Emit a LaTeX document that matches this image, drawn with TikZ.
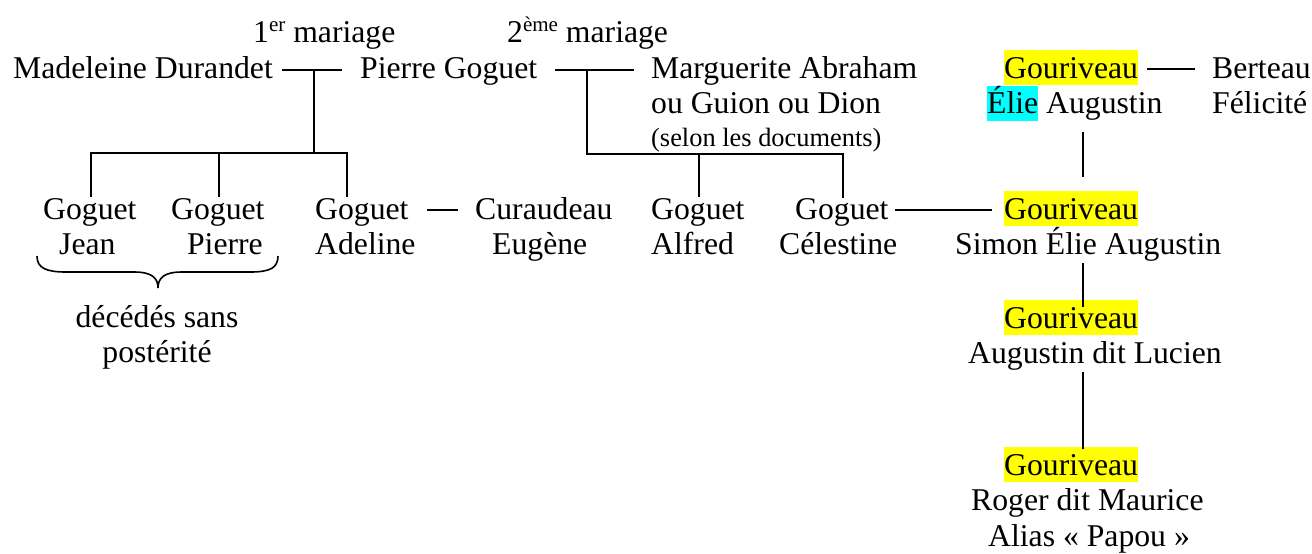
\documentclass[tikz,border=0pt]{standalone}
\usepackage{fontspec}
\setmainfont{Liberation Serif}
\definecolor{hlyellow}{RGB}{255,255,0}
\definecolor{hlcyan}{RGB}{0,255,255}
\newcommand\hlbox[2]{{\setlength{\fboxsep}{0pt}\colorbox{#1}{\rule[-7pt]{0pt}{35pt}#2}}}
\newcommand\supx[1]{\raisebox{10.5pt}{\fontsize{21}{21}\selectfont #1}}
\begin{document}
\begin{tikzpicture}[x=1pt,y=-1pt,
  txt/.style={inner sep=0pt, anchor=base west, font=\fontsize{31.7}{35.5}\selectfont},
  txtr/.style={txt, anchor=base east},
  small/.style={txt, font=\fontsize{26.4}{30}\selectfont},
  link/.style={line width=2pt, black, line cap=butt, line join=miter}]
\useasboundingbox (0,0) rectangle (1312,554);

% --- marriage labels
\node[txt] (lab1) at (253,42) {1\supx{er} mariage};
\node[txt] (lab2) at (507,42) {2\supx{ème} mariage};

% --- top row
\node[txt] (md) at (13,78) {Madeleine Durandet};
\node[txt] (pg) at (360,78) {Pierre Goguet};
\node[txt] (ma1) at (651,78) {Marguerite Abraham};
\node[txt] (ma2) at (651,113.5) {ou Guion ou Dion};
\node[small] (ma3) at (651,146) {(selon les documents)};
\node[txt] (ga1) at (1004,78) {\hlbox{hlyellow}{Gouriveau}};
\node[txt] (ga2) at (987,113.5) {\hlbox{hlcyan}{Élie} Augustin};
\node[txt] (bf1) at (1212,78) {Berteau};
\node[txt] (bf2) at (1212,113.5) {Félicité};

% --- children row
\node[txt] (gj1) at (43,219) {Goguet};
\node[txt] (gj2) at (59,254.5) {Jean};
\node[txt] (gp1) at (171,219) {Goguet};
\node[txtr] (gp2) at (263,254.5) {Pierre};
\node[txt] (gad1) at (315,219) {Goguet};
\node[txt] (gad2) at (315,254.5) {Adeline};
\node[txt] (ce1) at (475,219) {Curaudeau};
\node[txt] (ce2) at (492,254.5) {Eugène};
\node[txt] (gal1) at (651,219) {Goguet};
\node[txt] (gal2) at (651,254.5) {Alfred};
\node[txt] (gc1) at (795,219) {Goguet};
\node[txt] (gc2) at (779,254.5) {Célestine};
\node[txt] (gs1) at (1004,219) {\hlbox{hlyellow}{Gouriveau}};
\node[txt] (gs2) at (955,254.5) {Simon Élie Augustin};

% --- lower rows
\node[txt] (gl1) at (1004,328) {\hlbox{hlyellow}{Gouriveau}};
\node[txt] (gl2) at (968,363.5) {Augustin dit Lucien};
\node[txt] (gr1) at (1004,475) {\hlbox{hlyellow}{Gouriveau}};
\node[txt] (gr2) at (971,510.5) {Roger dit Maurice};
\node[txt] (gr3) at (988,546) {Alias « Papou »};

\node[txt, anchor=base] (dc1) at (157,327) {décédés sans};
\node[txt, anchor=base] (dc2) at (157,362.5) {postérité};

% --- coordinates for connectors
\coordinate (m1a) at (282,70);  \coordinate (m1b) at (342,70);
\coordinate (m1c) at (314,70);  \coordinate (m1d) at (314,153);
\coordinate (k1a) at (91,153);  \coordinate (k1b) at (347,153);
\coordinate (dj) at (91,197);   \coordinate (dp) at (219,197);
\coordinate (dad) at (347,197);
\coordinate (m2a) at (555,70);  \coordinate (m2b) at (634,70);
\coordinate (m2c) at (587,70);  \coordinate (m2d) at (587,154);
\coordinate (k2b) at (843,154);
\coordinate (dal) at (699,197); \coordinate (dce) at (843,198);
\coordinate (aca) at (427,210); \coordinate (acb) at (458,210);
\coordinate (csa) at (895,210); \coordinate (csb) at (992,210);
\coordinate (gba) at (1147,69); \coordinate (gbb) at (1195,69);
\coordinate (v1a) at (1083,132); \coordinate (v1b) at (1083,177);
\coordinate (v2a) at (1083,263); \coordinate (v2b) at (1083,307);
\coordinate (v3a) at (1083,372); \coordinate (v3b) at (1083,449);

% --- connectors
\draw[link] (m1a) -- (m1b);
\draw[link] (m1c) -- (m1d);
\draw[link] (dj) -- (k1a) -- (k1b) -- (dad);
\draw[link] (dp) -- (dp |- k1a);
\draw[link] (m2a) -- (m2b);
\draw[link] (m2c) -- (m2d) -- (k2b) -- (dce);
\draw[link] (dal) -- (dal |- m2d);
\draw[link] (aca) -- (acb);
\draw[link] (csa) -- (csb);
\draw[link] (gba) -- (gbb);
\draw[link] (v1a) -- (v1b);
\draw[link] (v2a) -- (v2b);
\draw[link] (v3a) -- (v3b);

% --- brace
\draw[line width=1.6pt] (37,256) .. controls (37,268) and (46,272) .. (66,272)
  -- (134,272) .. controls (152,272) and (158,278) .. (158,288)
  .. controls (158,278) and (164,272) .. (182,272)
  -- (250,272) .. controls (270,272) and (278,268) .. (278,256);
\end{tikzpicture}
\end{document}
